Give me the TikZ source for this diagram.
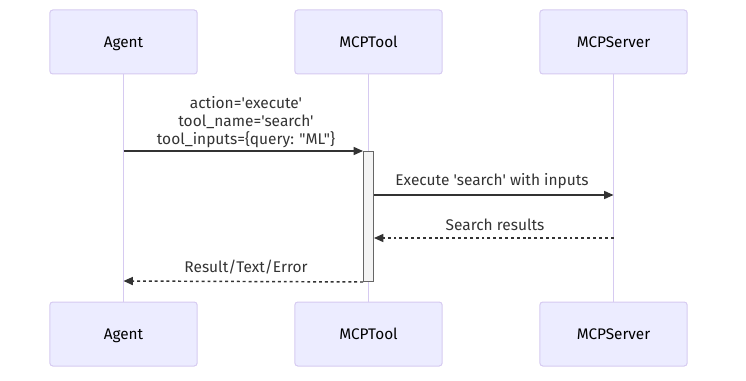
\documentclass[tikz,border=0pt]{standalone}
\usepackage{fontspec}
\setmainfont{Fira Sans}[Ligatures=TeXOff]
\usetikzlibrary{arrows.meta}
\definecolor{actorfill}{HTML}{ECECFF}
\definecolor{actorline}{HTML}{D6CAF1}
\definecolor{msgcol}{HTML}{333333}
\definecolor{actfill}{HTML}{F4F4F4}
\definecolor{actline}{HTML}{666666}
\tikzset{
  actor/.style={draw=actorline, fill=actorfill, rounded corners=2.25pt, line width=0.75pt,
    minimum width=110.5pt, minimum height=48pt, inner sep=0pt, text depth=0pt,
    font=\fontsize{11.5}{13}\selectfont},
  lifeline/.style={draw=actorline, line width=1.1pt},
  activation/.style={draw=actline, fill=actfill, line width=0.75pt},
  msg/.style={draw=msgcol, line width=1.1pt, -{Triangle[length=7pt,width=6pt]}},
  reply/.style={msg, dashed, dash pattern=on 2.2pt off 2.2pt},
  msglabel/.style={font=\fontsize{11.6}{13.5}\selectfont, text=msgcol, inner sep=0pt, align=center}
}
\begin{document}
\begin{tikzpicture}[x=0.75pt, y=-0.75pt]
\useasboundingbox (0,0) rectangle (746,381);
% participants, top and bottom
\node[actor] (agentT) at (123.5,42) {Agent};
\node[actor] (toolT) at (368.5,42) {MCPTool};
\node[actor] (srvT) at (613.5,42) {MCPServer};
\node[actor] (agentB) at (123.5,334) {Agent};
\node[actor] (toolB) at (368.5,334) {MCPTool};
\node[actor] (srvB) at (613.5,334) {MCPServer};
% lifelines
\draw[lifeline] (agentT.south) -- (agentB.north);
\draw[lifeline] (toolT.south) -- (toolB.north);
\draw[lifeline] (srvT.south) -- (srvB.north);
% activation bar on MCPTool
\node[activation, minimum width=7.5pt, minimum height=97.5pt, inner sep=0pt, anchor=north] (act) at (368.5,151) {};
% message anchors
\coordinate (m1s) at (agentT.south |- 0,151);
\coordinate (m1e) at (act.north west);
\coordinate (m2s) at (act.east |- 0,195);
\coordinate (m2e) at (srvT.south |- 0,195);
\coordinate (m3s) at (srvT.south |- 0,238);
\coordinate (m3e) at (act.east |- 0,238);
\coordinate (m4s) at (act.south west);
\coordinate (m4e) at (agentT.south |- 0,281);
% messages
\draw[msg] (m1s) -- (m1e);
\draw[msg] (m2s) -- (m2e);
\draw[reply] (m3s) -- (m3e);
\draw[reply] (m4s) -- (m4e);
% labels
\node[msglabel] (l1) at (246,122) {action='execute'\\tool\_name='search'\\tool\_inputs=\{query: "ML"\}};
\node[msglabel] (l2) at (492,181.5) {Execute 'search' with inputs};
\node[msglabel] (l3) at (495,224.5) {Search results};
\node[msglabel] (l4) at (246,267.5) {Result/Text/Error};
\end{tikzpicture}
\end{document}
